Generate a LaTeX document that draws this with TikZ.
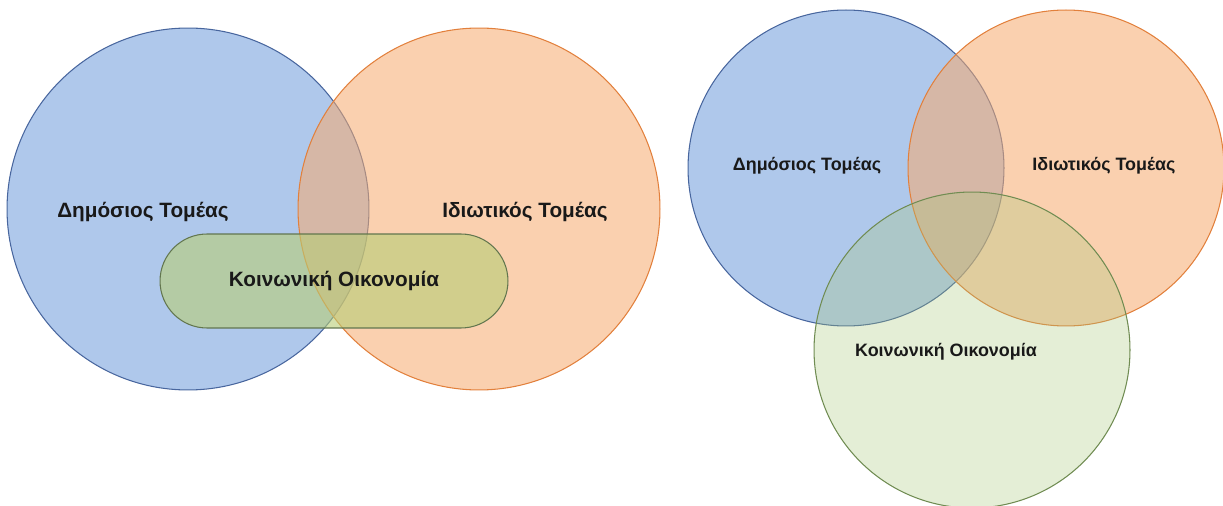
\documentclass[tikz,border=0pt]{standalone}
\usepackage{fontspec}
\setmainfont{Liberation Sans}
\usetikzlibrary{shapes.misc}
\definecolor{publicfill}{RGB}{110,155,219}
\definecolor{publicline}{RGB}{72,102,158}
\definecolor{privatefill}{RGB}{246,170,110}
\definecolor{privateline}{RGB}{226,128,60}
\definecolor{socialfill}{RGB}{183,205,117}
\definecolor{socialline}{RGB}{98,118,78}
\definecolor{socialfillb}{RGB}{165,198,120}
\definecolor{sociallineb}{RGB}{112,140,82}

\begin{document}
\begin{tikzpicture}[x=0.02cm,y=-0.02cm,
    sector/.style={circle,draw,line width=0.6pt,fill opacity=0.55,inner sep=0pt},
    bigname/.style={font=\fontsize{11.8}{13}\selectfont\bfseries,text=black!90},
    smallname/.style={font=\fontsize{10.2}{12}\selectfont\bfseries,text=black!90}]
    \useasboundingbox (0,0) rectangle (1223,506);
    % Left diagram: two sectors and the social economy band
    \node[sector,draw=publicline,fill=publicfill,minimum size=7.24cm] (pubA) at (188,209) {};
    \node[sector,draw=privateline,fill=privatefill,minimum size=7.24cm] (privA) at (479,209) {};
    \node[rounded rectangle,draw=socialline,line width=0.6pt,fill=socialfill,fill opacity=0.6,text opacity=1,
          minimum width=6.96cm,minimum height=1.88cm,inner sep=0pt,bigname] (socA) at (334,281) {Κοινωνική Οικονομία};
    \node[bigname] (pubAtext) at (143,212) {Δημόσιος Τομέας};
    \node[bigname] (privAtext) at (525,212) {Ιδιωτικός Τομέας};
    % Right diagram: three circles
    \node[sector,draw=publicline,fill=publicfill,minimum size=6.32cm] (pubB) at (846,168) {};
    \node[sector,draw=privateline,fill=privatefill,minimum size=6.32cm] (privB) at (1066,168) {};
    \node[sector,draw=sociallineb,fill=socialfillb,fill opacity=0.3,minimum size=6.32cm] (socB) at (972,350) {};
    \node[smallname] (pubBtext) at (807,166) {Δημόσιος Τομέας};
    \node[smallname] (privBtext) at (1104,166) {Ιδιωτικός Τομέας};
    \node[smallname] (socBtext) at (946,352) {Κοινωνική Οικονομία};
\end{tikzpicture}
\end{document}
